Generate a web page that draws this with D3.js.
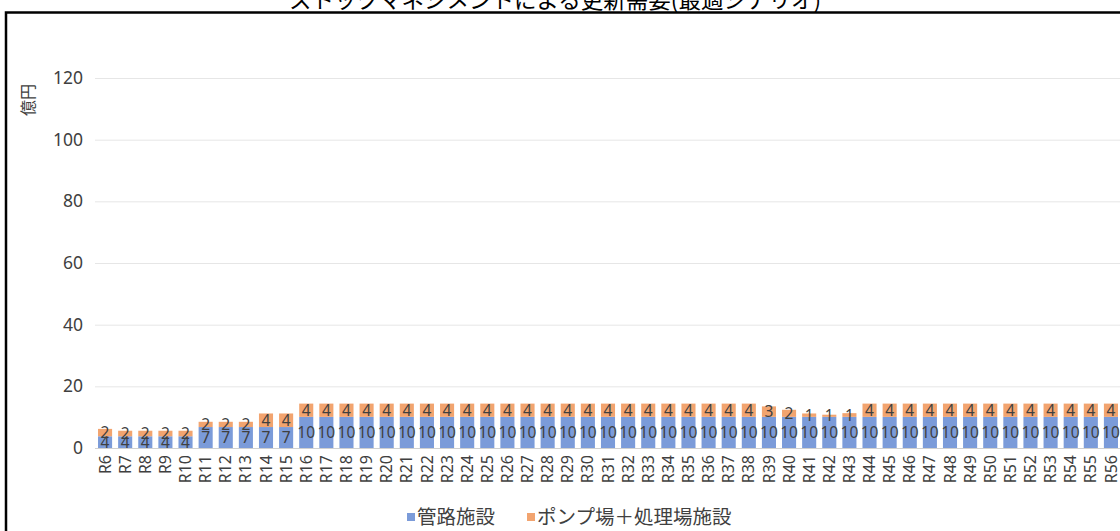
<!DOCTYPE html>
<html>
<head>
<meta charset="utf-8">
<script src="https://cdn.jsdelivr.net/npm/d3@7"></script>
<style>
  html, body { margin: 0; padding: 0; background: #fff; }
  svg { display: block; font-family: "Noto Sans CJK JP", "Noto Sans", sans-serif; }
</style>
</head>
<body>
<svg id="chart" width="1120" height="531"></svg>
<script>
// Fiscal years (Reiwa) on the category axis
const years = d3.range(6, 57).map(n => "R" + n);

// Pipeline facilities (億円)
const pipeValues = [
  3.8, 3.8, 3.8, 3.8, 3.8,
  6.8, 6.8, 6.8, 6.8, 6.8,
  10.1, 10.1, 10.1, 10.1, 10.1, 10.1, 10.1, 10.1, 10.1, 10.1,
  10.1, 10.1, 10.1, 10.1, 10.1, 10.1, 10.1, 10.1, 10.1, 10.1,
  10.1, 10.1, 10.1, 10.1, 10.1, 10.1, 10.1, 10.1, 10.1, 10.1,
  10.1, 10.1, 10.1, 10.1, 10.1, 10.1, 10.1, 10.1, 10.1, 10.1, 10.1
];

// Pump stations + treatment plants (億円)
const plantValues = [
  2.4, 1.8, 1.8, 1.8, 1.8,
  1.7, 1.7, 1.7, 4.4, 4.4,
  4.3, 4.3, 4.3, 4.3, 4.3, 4.3, 4.3, 4.3, 4.3, 4.3,
  4.3, 4.3, 4.3, 4.3, 4.3, 4.3, 4.3, 4.3, 4.3, 4.3,
  4.3, 4.3, 4.3, 3.4, 2.3, 1.1, 0.7, 1.2, 4.3, 4.3,
  4.3, 4.3, 4.3, 4.3, 4.3, 4.3, 4.3, 4.3, 4.3, 4.3, 4.3
];

const seriesNames = ["管路施設", "ポンプ場＋処理場施設"];
const seriesColors = ["#7b9bd9", "#f2a46f"];
const yTicks = [0, 20, 40, 60, 80, 100, 120];
const titleText = "ストックマネジメントによる更新需要(最適シナリオ)";
const yTitle = "億円";

const svg = d3.select("#chart");

// Outer frame (top and left edges visible within the canvas)
svg.append("rect")
  .attr("x", 6).attr("y", 12.5)
  .attr("width", 1140).attr("height", 560)
  .attr("fill", "none").attr("stroke", "#000").attr("stroke-width", 2.5);

// Title
svg.append("text")
  .attr("x", 555).attr("y", 8)
  .attr("text-anchor", "middle")
  .attr("font-size", 22.5)
  .attr("fill", "#000")
  .text(titleText);

const plot = { left: 95, right: 1121, top: 78, bottom: 448 };

const x = d3.scaleBand()
  .domain(years)
  .range([plot.left, plot.right])
  .paddingInner(0.3)
  .paddingOuter(0.15);

const y = d3.scaleLinear()
  .domain([0, 120])
  .range([plot.bottom, plot.top]);

// Gridlines + value axis labels
const yAxis = d3.axisLeft(y)
  .tickValues(yTicks)
  .tickSize(-(plot.right - plot.left))
  .tickPadding(12);

const gy = svg.append("g")
  .attr("transform", `translate(${plot.left},0)`)
  .call(yAxis);
gy.select(".domain").remove();
gy.selectAll(".tick line")
  .attr("stroke", d => d === 0 ? "#d0d0d0" : "#e6e6e6")
  .attr("stroke-width", 1);
gy.selectAll(".tick text")
  .attr("fill", "#404040")
  .attr("font-size", 17.5)
  .attr("font-family", "Noto Sans, sans-serif");

// Value axis title
svg.append("text")
  .attr("transform", "translate(34,100) rotate(-90)")
  .attr("text-anchor", "middle")
  .attr("font-size", 16)
  .attr("fill", "#404040")
  .text(yTitle);

// Stack the two series
const rows = years.map((yr, i) => ({ year: yr, pipe: pipeValues[i], plant: plantValues[i] }));
const stack = d3.stack().keys(["pipe", "plant"]);
const layers = stack(rows);

const fmt = d3.format(".0f");

layers.forEach((layer, li) => {
  const g = svg.append("g");
  g.selectAll("rect")
    .data(layer)
    .join("rect")
    .attr("x", d => x(d.data.year))
    .attr("y", d => y(d[1]))
    .attr("width", x.bandwidth())
    .attr("height", d => y(d[0]) - y(d[1]))
    .attr("fill", seriesColors[li]);

  g.selectAll("text")
    .data(layer)
    .join("text")
    .attr("x", d => x(d.data.year) + x.bandwidth() / 2)
    .attr("y", d => (y(d[0]) + y(d[1])) / 2)
    .attr("dy", "0.36em")
    .attr("text-anchor", "middle")
    .attr("font-size", 15.5)
    .attr("font-family", "Noto Sans, sans-serif")
    .attr("fill", "#404040")
    .text(d => fmt(d[1] - d[0]));
});

// Category axis labels
const xAxis = d3.axisBottom(x).tickSize(0).tickPadding(0);
const gx = svg.append("g")
  .attr("transform", `translate(0,${plot.bottom})`)
  .call(xAxis);
gx.select(".domain").remove();
gx.selectAll(".tick text")
  .attr("transform", "rotate(-90)")
  .attr("x", -7)
  .attr("y", 0)
  .attr("dy", "0.35em")
  .attr("text-anchor", "end")
  .attr("font-size", 16)
  .attr("font-family", "Noto Sans, sans-serif")
  .attr("fill", "#404040");

// Legend
const legendItems = [
  { name: seriesNames[0], color: seriesColors[0], x: 407 },
  { name: seriesNames[1], color: seriesColors[1], x: 527 }
];
const lg = svg.append("g");
legendItems.forEach(it => {
  lg.append("rect")
    .attr("x", it.x).attr("y", 513)
    .attr("width", 8).attr("height", 8)
    .attr("fill", it.color);
  lg.append("text")
    .attr("x", it.x + 10).attr("y", 524)
    .attr("font-size", 19.5)
    .attr("fill", "#404040")
    .text(it.name);
});
</script>
</body>
</html>
